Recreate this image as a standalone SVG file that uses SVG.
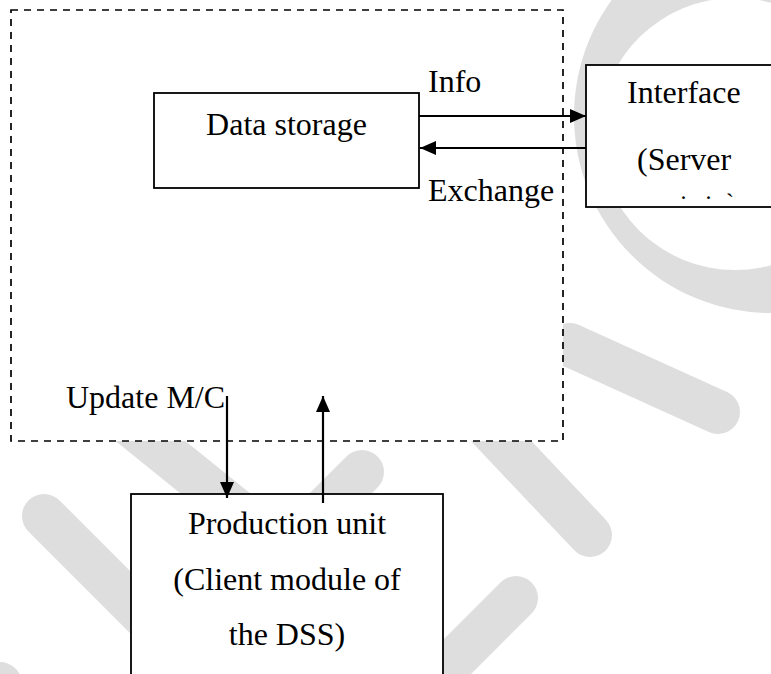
<svg xmlns="http://www.w3.org/2000/svg" width="771" height="674" viewBox="0 0 771 674">
  <style>
    .wm { stroke: #dedede; stroke-width: 44; stroke-linecap: round; fill: none; }
    .box { fill: #ffffff; stroke: #000000; stroke-width: 1.8; }
    .group { fill: #ffffff; stroke: #000000; stroke-width: 1.7; stroke-dasharray: 7 6; }
    .conn { stroke: #000000; stroke-width: 2.2; fill: none; marker-end: url(#arrow); }
    text { font-family: "Liberation Serif", "Times New Roman", serif; font-size: 32px; fill: #000000; }
    .mid { text-anchor: middle; }
    .small { font-size: 24px; }
  </style>
  <defs>
    <marker id="arrow" markerUnits="userSpaceOnUse" markerWidth="16" markerHeight="14" refX="16" refY="7" orient="auto">
      <path d="M0,0 L16,7 L0,14 Z" fill="#000000"/>
    </marker>
  </defs>

  <!-- background -->
  <rect x="0" y="0" width="771" height="674" fill="#ffffff"/>

  <!-- faint background logo -->
  <g id="watermark">
    <path d="M574,116 a197,197 0 1,0 394,0 a197,197 0 1,0 -394,0 Z M599,134 a136,136 0 1,0 272,0 a136,136 0 1,0 -272,0 Z" fill="#dedede" fill-rule="evenodd"/>
    <line class="wm" x1="570" y1="345" x2="718" y2="412"/>
    <line class="wm" x1="418" y1="353" x2="590" y2="535"/>
    <line class="wm" x1="516" y1="598" x2="380" y2="734"/>
    <line class="wm" x1="362" y1="472" x2="260" y2="574"/>
    <line class="wm" x1="60" y1="368" x2="262" y2="531"/>
    <line class="wm" x1="44" y1="516" x2="200" y2="672"/>
    <line class="wm" x1="0" y1="684" x2="-40" y2="727"/>
  </g>

  <!-- system boundary -->
  <g id="system-boundary">
    <rect class="group" x="11" y="10" width="552" height="431"/>
  </g>

  <g id="node-data-storage">
    <rect class="box" x="154" y="93" width="265" height="95"/>
    <text class="mid" x="286.5" y="135">Data storage</text>
  </g>

  <g id="node-interface">
    <rect class="box" x="586" y="65" width="200" height="142"/>
    <text x="627" y="103">Interface</text>
    <text x="637" y="170">(Server</text>
    <text class="small"><tspan x="680.5" y="199">.</tspan><tspan x="705.5" y="199">.</tspan><tspan x="726" y="210">`</tspan></text>
  </g>

  <g id="node-production">
    <rect class="box" x="131" y="494" width="312" height="200"/>
    <text class="mid" x="287" y="534">Production unit</text>
    <text class="mid" x="287" y="590">(Client module of</text>
    <text class="mid" x="287" y="645">the DSS)</text>
  </g>

  <g id="connectors">
    <line class="conn" x1="419" y1="116" x2="586" y2="116"/>
    <line class="conn" x1="586" y1="148" x2="420" y2="148"/>
    <line class="conn" x1="227" y1="396" x2="227" y2="498"/>
    <line class="conn" x1="323" y1="503" x2="323" y2="396"/>
  </g>

  <g id="labels">
    <text x="428" y="92">Info</text>
    <text x="428" y="201">Exchange</text>
    <text x="66" y="408">Update M/C</text>
  </g>
</svg>
